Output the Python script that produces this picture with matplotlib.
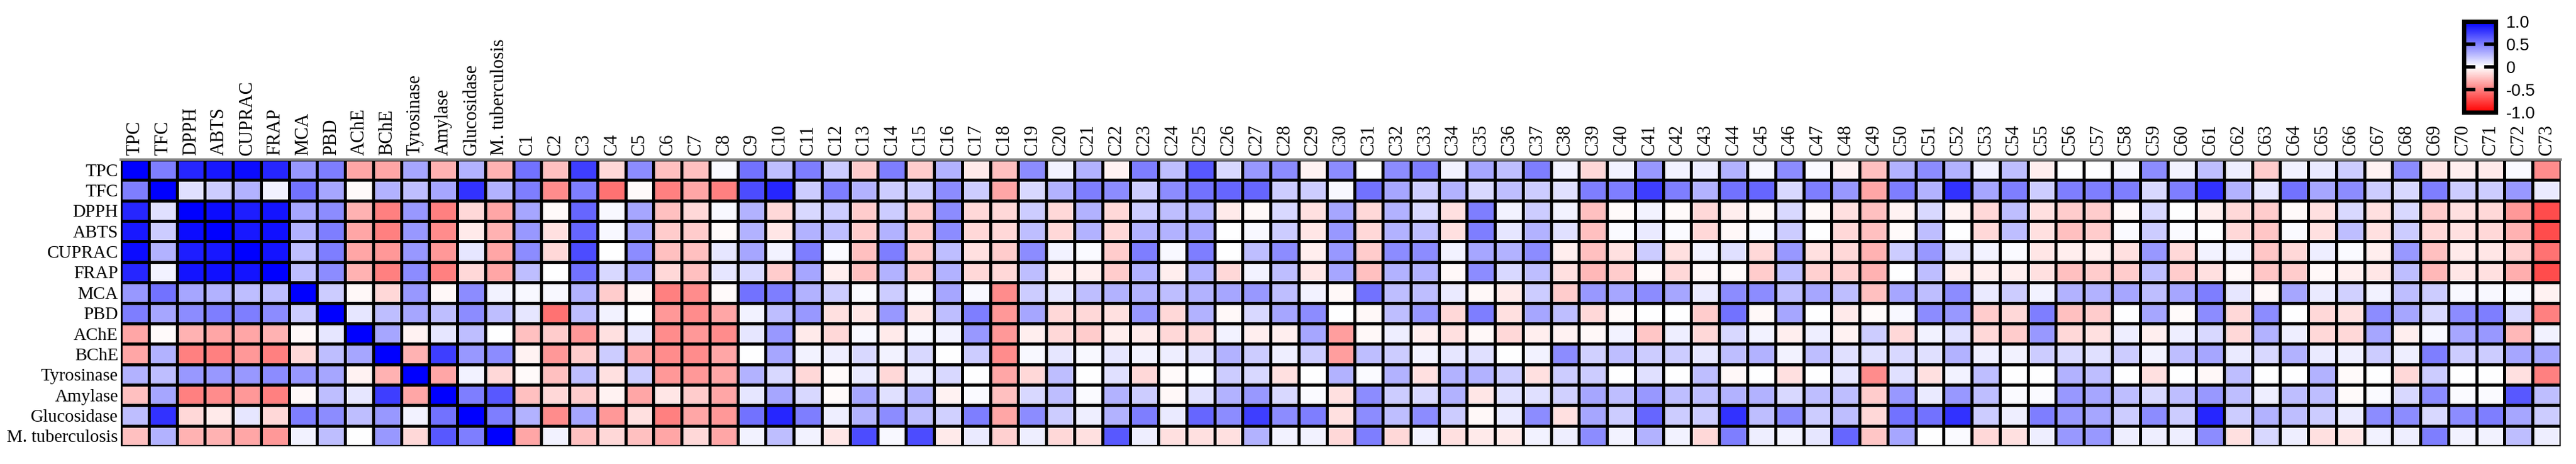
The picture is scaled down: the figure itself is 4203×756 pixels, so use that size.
import numpy as np
import matplotlib
matplotlib.use("Agg")
import matplotlib.pyplot as plt

rows = ["TPC", "TFC", "DPPH", "ABTS", "CUPRAC", "FRAP", "MCA", "PBD", "AChE", "BChE",
        "Tyrosinase", "Amylase", "Glucosidase", "M. tuberculosis"]
compounds = ["C%d" % i for i in range(1, 74)]
columns = rows + compounds

# correlations among assays (rows x assays)
assay_corr = [
    [1, 0.5, 0.85, 0.9, 0.95, 0.85, 0.4, 0.5, -0.35, -0.35, 0.35, -0.3, 0.3, -0.3],
    [0.5, 1, 0.12, 0.2, 0.3, 0.05, 0.55, 0.35, -0.02, 0.3, 0.25, 0.35, 0.8, 0.3],
    [0.85, 0.12, 1, 0.95, 0.88, 0.92, 0.35, 0.45, -0.3, -0.5, 0.4, -0.5, -0.15, -0.35],
    [0.9, 0.2, 0.95, 1, 0.9, 0.93, 0.3, 0.5, -0.35, -0.5, 0.4, -0.45, -0.08, -0.3],
    [0.95, 0.3, 0.88, 0.9, 1, 0.92, 0.25, 0.5, -0.35, -0.4, 0.4, -0.4, 0.1, -0.35],
    [0.85, 0.05, 0.92, 0.93, 0.92, 1, 0.25, 0.45, -0.3, -0.5, 0.45, -0.5, -0.15, -0.35],
    [0.4, 0.55, 0.35, 0.3, 0.25, 0.25, 1, 0.2, -0.03, -0.15, 0.4, -0.03, 0.45, 0.05],
    [0.5, 0.35, 0.45, 0.5, 0.5, 0.45, 0.2, 1, 0.1, 0.25, 0.35, 0.25, 0.45, 0.25],
    [-0.35, -0.02, -0.3, -0.35, -0.35, -0.3, -0.03, 0.1, 1, 0.35, -0.05, 0.1, 0.25, 0.0],
    [-0.35, 0.3, -0.5, -0.5, -0.4, -0.5, -0.15, 0.25, 0.35, 1, -0.3, 0.75, 0.4, 0.45],
    [0.3, 0.25, 0.4, 0.4, 0.4, 0.45, 0.4, 0.35, -0.05, -0.3, 1, -0.35, 0.05, -0.15],
    [-0.25, 0.35, -0.5, -0.45, -0.4, -0.5, -0.03, 0.25, 0.1, 0.75, -0.35, 1, 0.5, 0.65],
    [0.25, 0.8, -0.15, -0.08, 0.1, -0.15, 0.5, 0.45, 0.25, 0.4, 0.05, 0.55, 1, 0.5],
    [-0.25, 0.3, -0.3, -0.3, -0.35, -0.4, 0.05, 0.25, 0.0, 0.4, -0.15, 0.65, 0.5, 1],
]

# correlations of compounds C1..C73 (each list = one compound, 14 assay values)
compound_corr = [
    [0.55, 0.5, 0.35, 0.4, 0.45, 0.25, 0.03, 0.1, -0.25, -0.05, -0.02, -0.25, 0.3, -0.35],
    [-0.25, -0.45, -0.02, -0.12, -0.15, 0, 0.03, -0.55, -0.2, -0.4, -0.25, -0.15, -0.45, 0.05],
    [0.75, 0.5, 0.6, 0.6, 0.7, 0.55, 0.3, 0.25, -0.4, -0.2, 0.25, -0.2, 0.35, -0.25],
    [-0.15, -0.55, 0.03, 0.03, 0, 0.15, -0.2, 0.05, -0.12, 0.2, -0.12, -0.05, -0.4, -0.15],
    [0.45, -0.02, 0.35, 0.35, 0.45, 0.35, -0.03, 0, 0.1, -0.35, 0.2, -0.35, -0.12, -0.25],
    [-0.25, -0.5, -0.25, -0.2, -0.25, -0.15, -0.5, -0.4, -0.45, -0.45, -0.4, -0.1, -0.5, -0.35],
    [-0.25, -0.35, -0.15, -0.2, -0.25, -0.25, -0.45, -0.45, -0.4, -0.45, -0.4, -0.2, -0.35, -0.15],
    [0.02, -0.5, 0.03, -0.02, 0.1, 0.1, -0.02, -0.35, -0.45, -0.35, -0.35, -0.35, -0.4, -0.35],
    [0.55, 0.7, 0.3, 0.3, 0.35, 0.15, 0.55, 0.05, 0.1, 0.0, 0.3, 0.1, 0.55, 0.05],
    [0.25, 0.85, -0.15, -0.1, 0.05, -0.2, 0.5, 0.25, 0.4, 0.35, 0.15, 0.35, 0.85, 0.25],
    [0.5, 0.2, 0.15, 0.3, 0.5, 0.35, 0.3, 0.4, -0.08, 0.05, -0.15, 0.15, 0.5, 0.05],
    [0.2, 0.5, 0.2, 0.25, 0.02, -0.07, 0.2, -0.12, -0.15, 0.07, -0.02, -0.02, 0.07, -0.1],
    [-0.2, 0.3, -0.2, -0.2, -0.25, -0.25, 0.02, -0.1, 0.03, 0.15, 0.08, 0.35, 0.3, 0.7],
    [0.5, 0.2, 0.2, 0.3, 0.5, 0.3, 0.2, 0.4, -0.08, 0.05, -0.15, 0.12, 0.45, 0.03],
    [-0.2, 0.2, -0.2, -0.2, -0.2, -0.2, 0.02, -0.1, 0.03, 0.15, 0.07, 0.3, 0.25, 0.7],
    [0.3, 0.45, 0.45, 0.45, 0.25, 0.3, 0.35, 0.25, 0.05, 0.0, 0.15, -0.05, 0.18, -0.08],
    [-0.08, 0.2, -0.15, -0.15, -0.12, -0.15, 0.03, 0.5, 0.4, 0.2, 0, 0.02, 0.5, 0.08],
    [-0.25, -0.35, -0.15, -0.15, -0.2, -0.15, -0.45, -0.4, -0.4, -0.45, -0.35, -0.25, -0.35, -0.18],
    [0.45, 0.15, 0.2, 0.25, 0.45, 0.25, 0.2, 0.35, -0.07, 0.03, -0.15, 0.15, 0.45, 0.07],
    [0.05, 0.3, -0.15, -0.15, 0.05, -0.07, 0.1, -0.15, -0.15, 0.1, 0.25, 0.25, 0.2, -0.15],
    [0.3, 0.5, 0.3, 0.3, 0.02, -0.07, 0.25, -0.15, -0.2, 0.03, 0, 0.02, 0.07, -0.12],
    [-0.05, 0.45, -0.15, -0.15, -0.2, -0.2, 0.3, -0.12, -0.07, 0.1, 0.12, 0.3, 0.3, 0.65],
    [0.5, 0.2, 0.2, 0.3, 0.5, 0.3, 0.3, 0.4, -0.08, 0.05, -0.15, 0.2, 0.5, 0.07],
    [0.25, 0.45, 0.25, 0.3, 0.03, -0.07, 0.25, -0.15, -0.15, 0.07, -0.02, -0.03, 0.08, -0.12],
    [0.65, 0.55, 0.3, 0.35, 0.5, 0.3, 0.3, 0.3, -0.15, 0.12, 0, 0.12, 0.6, -0.12],
    [0.15, 0.6, -0.08, 0, 0, -0.15, 0.35, -0.03, 0.05, 0.3, 0.2, 0.3, 0.45, -0.12],
    [0.4, 0.6, -0.03, 0.03, 0.25, 0.05, 0.4, 0.15, -0.07, 0.2, 0.15, 0.4, 0.75, 0.3],
    [0.45, 0.2, 0.15, 0.2, 0.45, 0.25, 0.25, 0.35, -0.07, 0.07, -0.12, 0.15, 0.45, 0.05],
    [-0.05, 0.2, -0.12, -0.1, -0.07, -0.1, 0.05, 0.45, 0.35, 0.2, 0, 0.02, 0.5, 0.05],
    [0.45, 0.03, 0.35, 0.4, 0.4, 0.35, -0.03, 0, -0.38, -0.38, 0.3, -0.12, -0.12, -0.15],
    [0, 0.55, -0.15, -0.15, -0.2, -0.25, 0.55, -0.03, -0.03, 0.25, 0.02, 0.45, 0.45, 0.5],
    [0.45, 0.35, 0.3, 0.3, 0.45, 0.3, 0.25, 0.25, 0.07, 0.2, 0.3, 0.2, 0.25, -0.15],
    [0.5, 0.2, 0.15, 0.25, 0.45, 0.3, 0.25, 0.4, -0.07, 0.05, -0.12, 0.15, 0.45, 0.05],
    [0.05, 0.3, -0.12, -0.12, 0.05, -0.03, 0.08, -0.15, -0.12, 0.1, 0.3, 0.3, 0.2, -0.12],
    [0.35, 0.15, 0.5, 0.5, 0.35, 0.45, -0.03, 0.5, -0.03, 0.12, 0.3, -0.1, -0.03, -0.08],
    [0.25, 0.25, 0.05, 0.1, 0.3, 0.15, -0.08, -0.12, -0.15, 0, 0.2, 0.12, 0.08, -0.08],
    [0.5, 0.2, 0.2, 0.3, 0.45, 0.25, 0.2, 0.35, -0.07, 0.05, -0.12, 0.12, 0.45, 0.05],
    [0.05, 0.12, 0.05, 0.12, -0.07, -0.12, -0.2, 0.25, -0.05, 0.45, 0.2, 0.18, -0.12, 0.07],
    [-0.15, 0.5, -0.25, -0.25, -0.25, -0.28, 0.4, -0.15, -0.03, 0.18, 0.2, 0.35, 0.35, 0.45],
    [0.05, 0.5, -0.02, 0.02, -0.12, -0.2, 0.35, -0.02, 0.05, 0.25, 0, 0.25, 0.2, 0.05],
    [0.4, 0.75, 0.05, 0.08, 0.2, -0.02, 0.45, 0, -0.22, 0.2, 0.12, 0.4, 0.6, 0.3],
    [0.05, 0.5, -0.02, 0.02, -0.12, -0.15, 0.35, 0, 0.07, 0.2, 0, 0.25, 0.2, 0.05],
    [0.07, 0.3, -0.15, -0.15, 0.05, -0.03, 0.08, -0.2, -0.15, 0.1, 0.25, 0.25, 0.2, -0.15],
    [0.3, 0.55, -0.07, -0.03, 0.12, -0.02, 0.45, 0.55, 0.15, 0.25, -0.03, 0.3, 0.8, 0.5],
    [0.03, 0.6, -0.03, 0.02, -0.15, -0.2, 0.45, -0.03, 0.05, 0.3, 0, 0.3, 0.25, 0.07],
    [0.45, 0.15, 0.15, 0.2, 0.4, 0.25, 0.25, 0.35, -0.07, 0.05, -0.12, 0.15, 0.45, 0.05],
    [0.02, 0.5, -0.03, 0, -0.12, -0.18, 0.35, 0, 0.07, 0.25, 0, 0.25, 0.2, 0.1],
    [-0.05, 0.4, -0.12, -0.15, -0.15, -0.18, 0.25, -0.08, -0.05, 0.12, 0.1, 0.25, 0.25, 0.6],
    [-0.25, -0.35, -0.25, -0.25, -0.3, -0.3, -0.25, -0.02, 0.2, 0.12, -0.45, -0.2, -0.15, -0.22],
    [0.3, 0.5, -0.05, -0.02, 0.2, 0, 0.35, 0.03, -0.15, 0.15, 0.12, 0.4, 0.55, 0.35],
    [0.45, 0.3, 0.15, 0.25, 0.4, 0.25, 0.25, 0.45, 0.05, 0.12, -0.12, 0.08, 0.55, 0.0],
    [0.3, 0.8, -0.05, 0, 0.12, -0.07, 0.45, 0.4, 0.12, 0.3, 0.05, 0.4, 0.8, 0.02],
    [0.05, 0.35, -0.15, -0.15, 0.05, -0.07, 0.08, -0.2, -0.15, 0.07, 0.25, 0.25, 0.2, -0.15],
    [0.25, 0.5, 0.25, 0.25, 0.02, -0.07, 0.2, -0.15, -0.2, 0.05, 0, 0.02, 0.07, -0.12],
    [-0.07, 0.2, -0.12, -0.12, -0.1, -0.12, 0.05, 0.5, 0.4, 0.2, 0, 0.02, 0.5, 0.07],
    [0.0, 0.5, -0.2, -0.25, -0.07, -0.25, 0.3, -0.25, -0.15, 0.15, 0.3, 0.4, 0.4, 0.4],
    [0, 0.5, -0.2, -0.2, -0.07, -0.2, 0.3, -0.2, -0.12, 0.12, 0.25, 0.35, 0.35, 0.4],
    [0.03, 0.5, -0.02, 0.02, -0.12, -0.2, 0.35, 0, 0.07, 0.2, 0, 0.25, 0.2, 0.07],
    [0.45, 0.15, 0.15, 0.2, 0.4, 0.25, 0.25, 0.35, -0.07, 0.05, -0.12, 0.15, 0.45, 0.07],
    [0.05, 0.5, 0, 0.02, -0.15, -0.2, 0.35, -0.02, 0.07, 0.25, 0, 0.25, 0.2, 0.07],
    [0.25, 0.8, -0.07, 0, 0.05, -0.12, 0.5, 0.45, 0.15, 0.35, -0.03, 0.4, 0.85, 0.45],
    [0.07, 0.3, -0.15, -0.15, 0.05, -0.03, 0.1, -0.15, -0.15, 0.08, 0.25, 0.25, 0.2, -0.12],
    [-0.2, 0.1, -0.2, -0.22, -0.22, -0.22, -0.03, 0.45, 0.3, 0.15, 0, 0.07, 0.3, 0.15],
    [0.05, 0.55, -0.02, 0.02, -0.15, -0.2, 0.35, 0, 0.07, 0.3, 0, 0.25, 0.25, 0.07],
    [0.08, 0.35, -0.12, -0.12, 0.07, -0.03, 0.08, -0.15, -0.15, 0.08, 0.3, 0.25, 0.2, -0.12],
    [0.2, 0.45, 0.15, 0.25, 0.02, -0.07, 0.18, -0.12, -0.15, 0.07, -0.02, -0.02, 0.08, -0.1],
    [-0.05, 0.2, -0.12, -0.12, -0.07, -0.1, 0.05, 0.45, 0.35, 0.2, 0, 0.02, 0.45, 0.05],
    [0.45, 0.15, 0.15, 0.2, 0.4, 0.25, 0.25, 0.35, -0.07, 0.07, -0.15, 0.15, 0.45, 0.07],
    [-0.1, 0.5, -0.2, -0.15, -0.25, -0.28, 0.2, 0.15, 0.03, 0.5, 0.2, 0.45, 0.15, 0.5],
    [-0.07, 0.2, -0.12, -0.12, -0.08, -0.1, 0.03, 0.45, 0.35, 0.2, 0, 0.02, 0.45, 0.05],
    [-0.08, 0.2, -0.15, -0.15, -0.1, -0.12, 0.03, 0.5, 0.4, 0.2, 0, 0.02, 0.5, 0.05],
    [0.02, 0.4, -0.4, -0.3, -0.18, -0.32, 0.03, 0.15, -0.28, 0.35, -0.12, 0.65, 0.35, 0.25],
    [-0.45, 0.08, -0.7, -0.7, -0.55, -0.7, -0.05, -0.5, 0.05, 0.35, -0.5, 0.25, 0.2, 0.07],
]

data = np.hstack([np.array(assay_corr, float), np.array(compound_corr, float).T])

fig = plt.figure(figsize=(42.03, 7.56), dpi=100)
ax = fig.add_axes([197 / 4203, 1 - 727 / 756, (4178 - 197) / 4203, (727 - 260) / 756])
mesh = ax.pcolormesh(data, cmap="bwr_r", vmin=-1, vmax=1, edgecolors="black", linewidth=2.2)
ax.set_xlim(0, data.shape[1])
ax.set_ylim(data.shape[0], 0)
ax.xaxis.tick_top()
ax.set_xticks(np.arange(data.shape[1]) + 0.5)
ax.set_xticklabels(columns, rotation=90, fontsize=22, family="Liberation Serif")
ax.set_yticks(np.arange(data.shape[0]) + 0.5)
ax.set_yticklabels(rows, fontsize=21, family="Liberation Serif")
ax.tick_params(axis="y", length=0, pad=3)
ax.tick_params(axis="x", length=0, pad=5)
for s in ax.spines.values():
    s.set_visible(False)
ax.spines["top"].set_visible(True)
ax.spines["top"].set_color("#888888")
ax.spines["top"].set_linewidth(3)

cax = fig.add_axes([4020 / 4203, 1 - 183 / 756, 52 / 4203, 148 / 756])
cb = fig.colorbar(mesh, cax=cax, ticks=[1, 0.5, 0, -0.5, -1])
cb.ax.set_yticklabels(["1.0", "0.5", "0", "-0.5", "-1.0"], fontsize=20, family="Liberation Sans")
cb.outline.set_linewidth(5)
cb.ax.tick_params(length=0, pad=12)
for v in [0.5, 0, -0.5]:
    cax.plot([0, 0.3], [v, v], color="black", lw=4, transform=cax.get_yaxis_transform())
    cax.plot([0.7, 1], [v, v], color="black", lw=4, transform=cax.get_yaxis_transform())

fig.savefig("out.png", dpi=100)
